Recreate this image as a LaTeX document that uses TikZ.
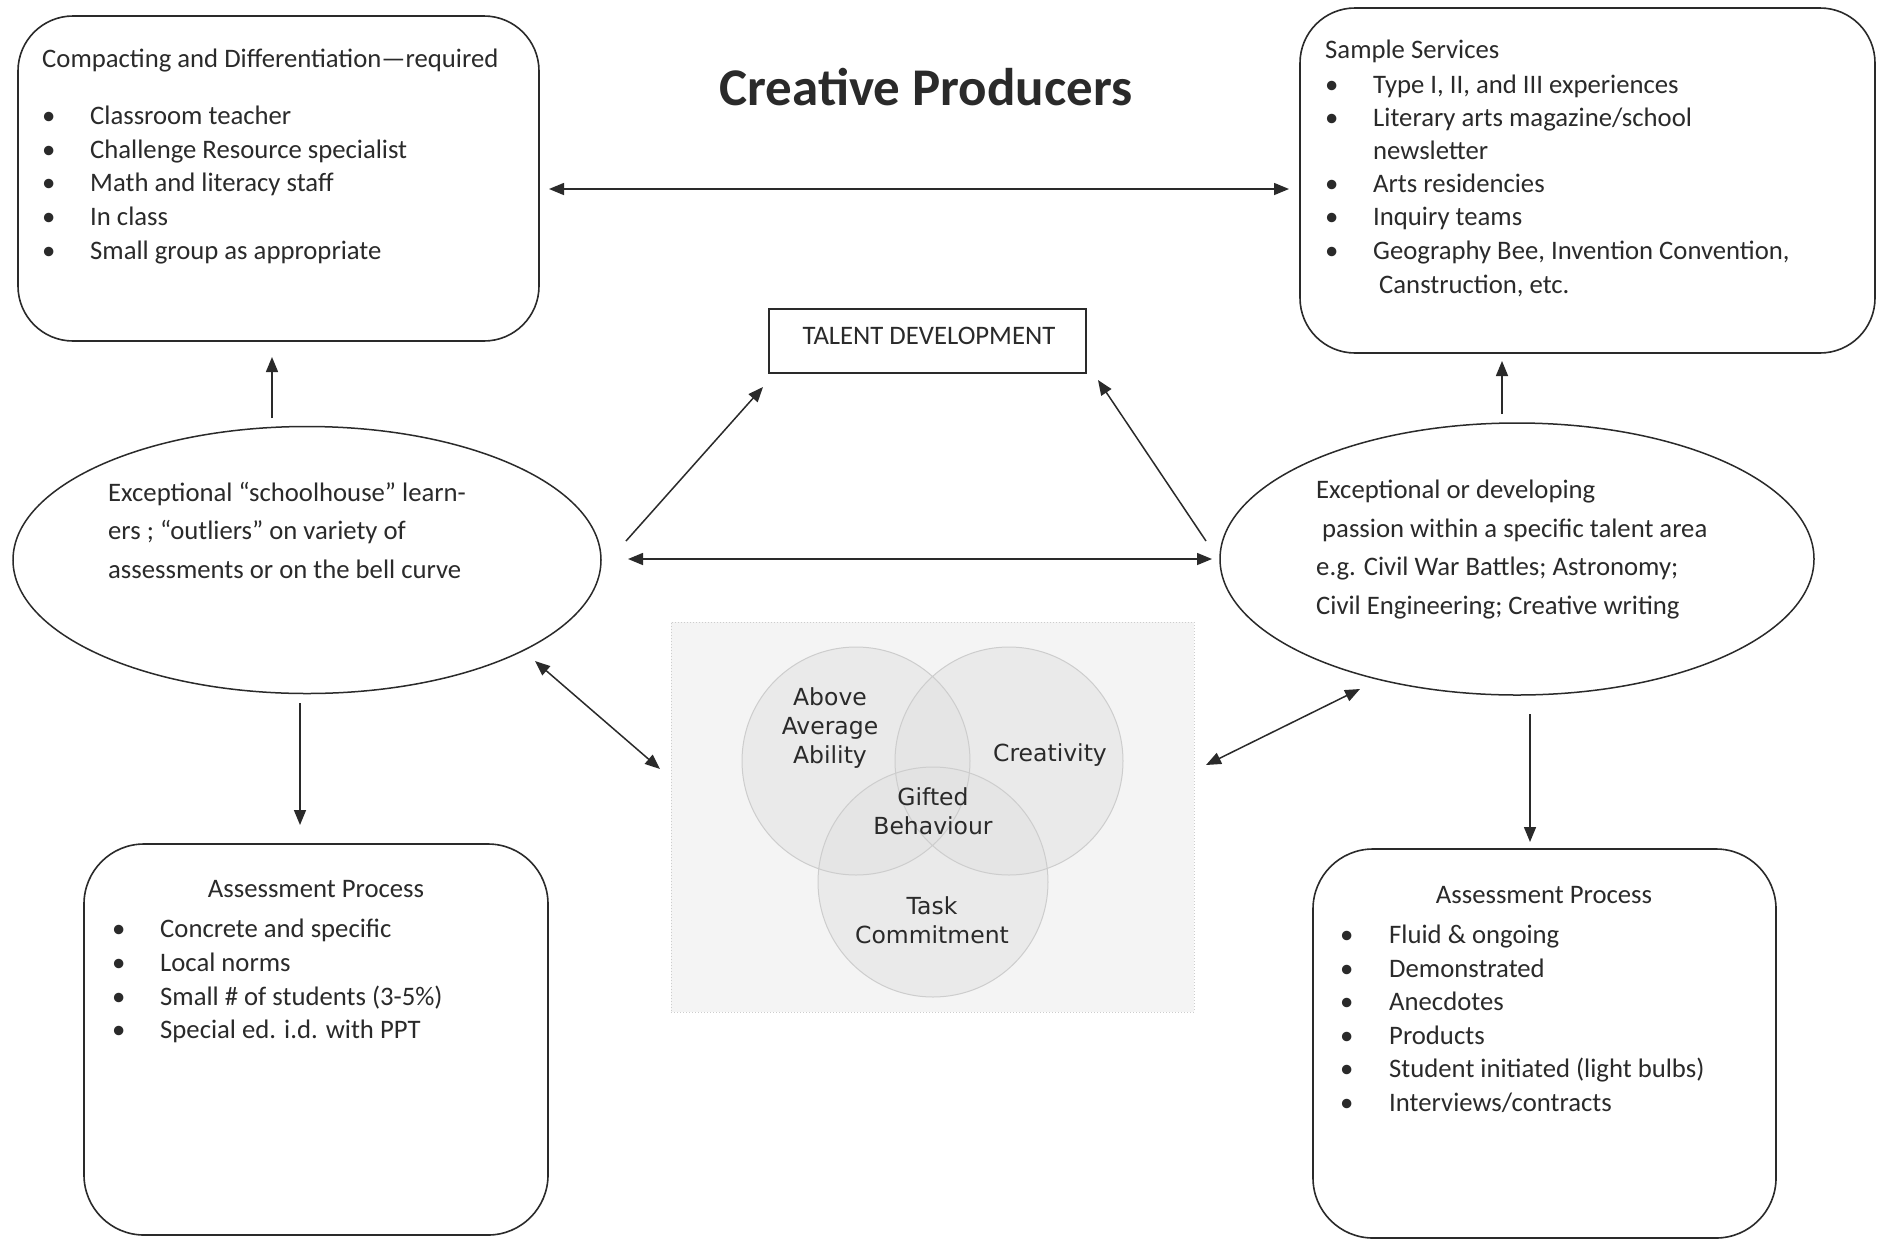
\documentclass[tikz,border=0pt]{standalone}
\usepackage{fontspec}
\setmainfont{Carlito}
\newfontfamily\vennfont{DejaVu Sans}
\usetikzlibrary{arrows.meta,shapes.geometric}
\definecolor{ink}{HTML}{2A2A2A}
\definecolor{vennbg}{HTML}{F4F4F4}
\definecolor{vennfill}{HTML}{E2E2E2}
\definecolor{vennline}{HTML}{CDCDCD}
\begin{document}
\begin{tikzpicture}[x=1pt,y=-1pt,
  rbox/.style={draw=ink, line width=1.6pt, rounded corners=55pt, inner sep=0pt, outer sep=0pt},
  ell/.style={ellipse, draw=ink, line width=1.5pt, inner sep=0pt, outer sep=0pt},
  txt/.style={anchor=mid west, inner sep=0pt, yshift=-7pt, font=\fontsize{26.7}{32}\selectfont, text=ink},
  ctxt/.style={anchor=mid, inner sep=0pt, yshift=-7pt, font=\fontsize{26.7}{32}\selectfont, text=ink},
  vtxt/.style={align=center, inner sep=0pt, yshift=-1pt, font=\vennfont\fontsize{23.5}{29}\selectfont, text=ink},
  arr/.style={draw=ink, line width=1.5pt, -{Triangle[length=15pt,width=12pt]}},
  darr/.style={draw=ink, line width=1.5pt, {Triangle[length=15pt,width=12pt]}-{Triangle[length=15pt,width=12pt]}}
]
\useasboundingbox[fill=white] (0,0) rectangle (1885,1240);

% title
\node (title) [inner sep=0pt, text=ink, font=\fontsize{53}{60}\bfseries\selectfont] at (926,87) {Creative Producers};

% top-left box
\node (tl) [rbox, minimum width=521pt, minimum height=325pt] at (278.5,178.5) {};
\node (tlh) [txt] at (42,58) {Compacting and Differentiation—required};
\foreach \t [count=\i] in {Classroom teacher, Challenge Resource specialist, Math and literacy staff, In class, Small group as appropriate}{
  \node (tlbul\i) [txt] at (42,{115+(\i-1)*33.8}) {•};
  \node (tlt\i) [txt] at (90,{115+(\i-1)*33.8}) {\t};
}

% top-right box
\node (tr) [rbox, minimum width=575pt, minimum height=345pt] at (1587.5,180.5) {};
\node (trh) [txt] at (1325,49) {Sample Services};
\foreach \t/\yy in {{Type I, II, and III experiences}/84, {Literary arts magazine/school}/117, {Arts residencies}/183, {Inquiry teams}/216, {Geography Bee, Invention Convention,}/250}{
  \node [txt] at (1325,\yy) {•};
  \node [txt] at (1373,\yy) {\t};
}
\node (trn) [txt] at (1373,150) {newsletter};
\node (trc) [txt] at (1379,284) {Canstruction, etc.};

% talent development
\node (td) [draw=ink, line width=1.5pt, minimum width=317pt, minimum height=64pt, inner sep=0pt] at (927.5,341) {};
\node (tdt) [ctxt] at (929,335) {TALENT DEVELOPMENT};

% left ellipse
\node (ellL) [ell, minimum width=588pt, minimum height=267pt] at (307,560) {};
\node (eL1) [txt] at (108,492) {Exceptional “schoolhouse” learn-};
\node (eL2) [txt] at (108,530) {ers ; “outliers” on variety of};
\node (eL3) [txt] at (108,569) {assessments or on the bell curve};

% right ellipse
\node (ellR) [ell, minimum width=594pt, minimum height=272pt] at (1517,559) {};
\node (eR1) [txt] at (1316,489) {Exceptional or developing};
\node (eR2) [txt] at (1322,528) {passion within a specific talent area};
\node (eR3) [txt] at (1316,566) {e.g. Civil War Battles; Astronomy;};
\node (eR4) [txt] at (1316,605) {Civil Engineering; Creative writing};

% Venn diagram
\node (venn) [draw=vennline, dotted, line width=1pt, fill=vennbg, minimum width=523pt, minimum height=390pt, inner sep=0pt] at (932.5,817) {};
\begin{scope}[fill opacity=0.55]
  \fill[vennfill] (856,761) circle (114);
  \fill[vennfill] (1009,761) circle (114);
  \fill[vennfill] (933,882) circle (115);
\end{scope}
\draw[vennline, line width=1pt] (856,761) circle (114) (1009,761) circle (114) (933,882) circle (115);
\node (v1) [vtxt] at (830,727) {Above\\Average\\Ability};
\node (v2) [vtxt] at (1050,754) {Creativity};
\node (v3) [vtxt] at (933,810) {Gifted\\Behaviour};
\node (v4) [vtxt] at (932,919) {Task\\Commitment};

% bottom-left box
\node (bl) [rbox, rounded corners=60pt, minimum width=464pt, minimum height=391pt] at (316,1039.5) {};
\node (blh) [ctxt] at (316,888) {Assessment Process};
\foreach \t [count=\i] in {Concrete and specific, Local norms, Small \# of students (3-5\%), Special ed. i.d. with PPT}{
  \node [txt] at (112,{928+(\i-1)*33.8}) {•};
  \node [txt] at (160,{928+(\i-1)*33.8}) {\t};
}

% bottom-right box
\node (br) [rbox, rounded corners=60pt, minimum width=463pt, minimum height=389pt] at (1544.5,1043.5) {};
\node (brh) [ctxt] at (1544,894) {Assessment Process};
\foreach \t [count=\i] in {Fluid \& ongoing, Demonstrated, Anecdotes, Products, Student initiated (light bulbs), Interviews/contracts}{
  \node [txt] at (1340,{934+(\i-1)*33.6}) {•};
  \node [txt] at (1389,{934+(\i-1)*33.6}) {\t};
}

% connector end points
\coordinate (aTopL) at (549,189);  \coordinate (aTopR) at (1289,189);
\coordinate (aUL0) at (272,418);   \coordinate (aUL1) at (272,357);
\coordinate (aUR0) at (1502,414);  \coordinate (aUR1) at (1502,361);
\coordinate (aLT0) at (626,541);   \coordinate (aLT1) at (763,387);
\coordinate (aRT0) at (1206,541);  \coordinate (aRT1) at (1098,380);
\coordinate (aMidL) at (628,559);  \coordinate (aMidR) at (1212,559);
\coordinate (aDL0) at (300,703);   \coordinate (aDL1) at (300,825);
\coordinate (aDR0) at (1530,714);  \coordinate (aDR1) at (1530,842);
\coordinate (aLV0) at (535,661);   \coordinate (aLV1) at (660,769);
\coordinate (aRV0) at (1360,689);  \coordinate (aRV1) at (1206,765);

\draw[darr] (aTopL) -- (aTopR);
\draw[arr] (aUL0) -- (aUL1);
\draw[arr] (aUR0) -- (aUR1);
\draw[arr] (aLT0) -- (aLT1);
\draw[arr] (aRT0) -- (aRT1);
\draw[darr] (aMidL) -- (aMidR);
\draw[arr] (aDL0) -- (aDL1);
\draw[arr] (aDR0) -- (aDR1);
\draw[darr] (aLV0) -- (aLV1);
\draw[darr] (aRV0) -- (aRV1);
\end{tikzpicture}
\end{document}
